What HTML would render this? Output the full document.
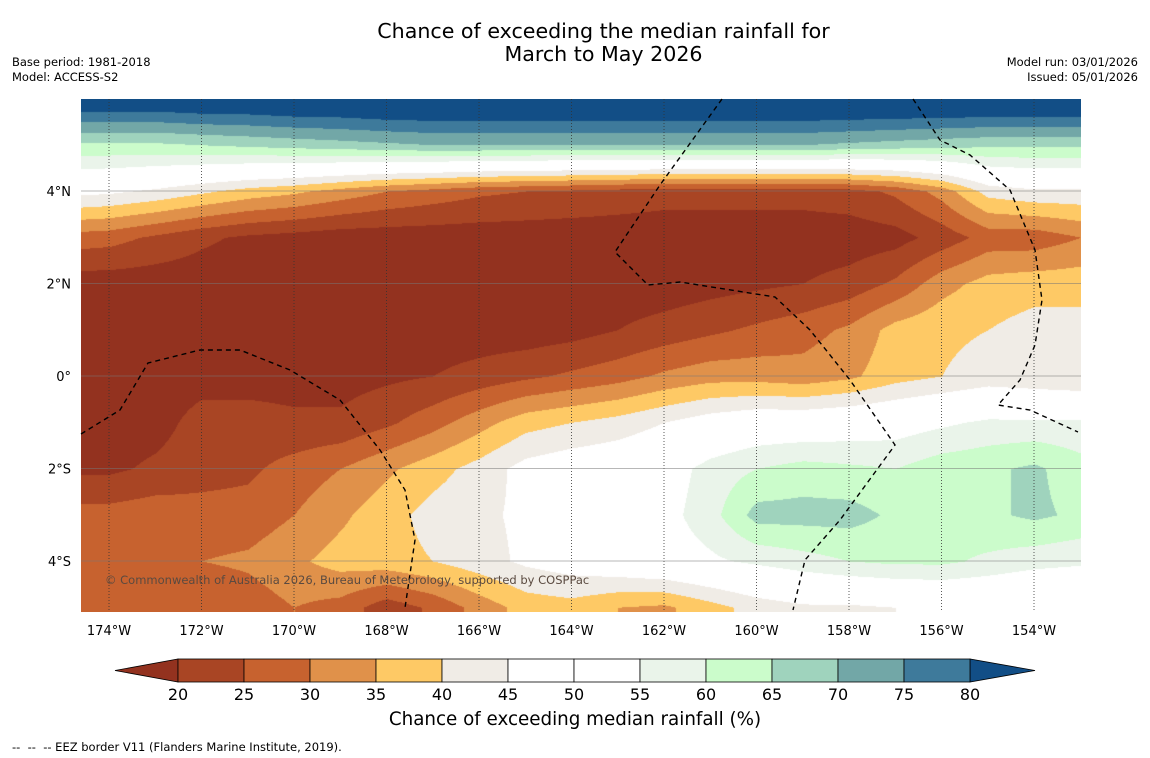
<!DOCTYPE html>
<html><head><meta charset="utf-8"><style>
body{margin:0;background:#fff;width:1150px;height:758px;overflow:hidden;font-family:"DejaVu Sans","Liberation Sans",sans-serif;position:relative}
.t{position:absolute;white-space:nowrap}
</style></head><body>
<div class="t" style="left:0;width:1207px;text-align:center;top:20px;font-size:20.6px;line-height:23px;color:#000">Chance of exceeding the median rainfall for<br>March to May 2026</div>
<div class="t" style="left:12px;top:55px;font-size:11.5px;line-height:15px">Base period: 1981-2018<br>Model: ACCESS-S2</div>
<div class="t" style="right:12px;top:55px;font-size:11.5px;line-height:15px;text-align:right">Model run: 03/01/2026<br>Issued: 05/01/2026</div>
<canvas id="map" width="1000" height="513" style="position:absolute;left:81px;top:99px"></canvas>
<svg id="ov" width="1150" height="758" style="position:absolute;left:0;top:0"></svg>
<div class="t" style="left:105px;top:573px;font-size:11.5px;color:#5a4a40">© Commonwealth of Australia 2026, Bureau of Meteorology, supported by COSPPac</div>
<div class="t" style="left:0;width:1150px;text-align:center;top:709px;font-size:18.3px">Chance of exceeding median rainfall (%)</div>
<div class="t" style="left:12px;top:740px;font-size:11.5px">--&nbsp; --&nbsp; -- EEZ border V11 (Flanders Marine Institute, 2019).</div>
<script>
const lons=[-175,-174,-173,-172,-171,-170,-169,-168,-167,-166,-165,-164,-163,-162,-161,-160,-159,-158,-157,-156,-155,-154,-153];
const lats=[6,5,4,3,2,1,0,-1,-2,-3,-4,-5,-6];
const r6=[86,86,86,87,87,88,88,89,89,89,89,89,89,89,89,89,89,89,89,89,89,89,89];
const r5=[64,64,64,65,66,67,68,69,70,70,70,70,70,70,70,70,70,69,68,67,66,66,66];
const r4=[47,46,44,41,38,36,33,30,28,26,25,24,23,22,22,22,22,23,26,32,42,44,44];
const r3=[28,27,24,21,19,18,17,17,17,17,17,17,17,17,17,17,17,17,18,22,27,27,30];
const r2=[17,17,17,17,17,17,17,17,17,17,17,17,17,17,18,19,20,22,26,33,37,38,38];
const r1=[17,17,17,17,17,17,17,17,17,17,17,18,20,22,24,26,28,31,37,39,40,42,42];
const r0=[17,17,17,18,18,18,18,19,20,22,24,26,28,31,33,33,32,34,38,40,42,41,40];
const rm1=[17,17,18,22,22,21,21,24,28,33,38,40,42,45,48,50,50,51,52,54,56,56,56];
const rm2=[19,19,21,23,24,27,30,34,38,42,47,49,50,52,57,60,62,61,60,63,64,66,62];
const rm3=[27,27,28,27,27,30,34,38,42,44,46,48,50,53,58,67,67,67,64,62,64,66,64];
const rm4=[28,28,29,30,31,34,37,38,40,43,46,48,50,52,54,56,58,60,61,61,59,57,56];
const rm5=[27,27,26,25,27,30,28,22,26,32,37,38,35,34,38,42,44,44,45,46,46,45,45];
const rm6=[27,27,26,25,27,30,28,22,26,32,37,38,35,34,38,42,44,44,45,46,46,45,45];
const grid=[r6,r5,r4,r3,r2,r1,r0,rm1,rm2,rm3,rm4,rm5,rm6];
const levels=[20,25,30,35,40,45,50,55,60,65,70,75,80];
const colors=["#93321f","#a94524","#c7622f","#e0914a","#fec965","#f0ece6","#ffffff","#ffffff","#eaf4ea","#cbfccb","#9fd3bd","#72a7a7","#3e7a9b","#124e86"];
const xTicks=[-174,-172,-170,-168,-166,-164,-162,-160,-158,-156,-154];
const yTicks=[4,2,0,-2,-4];
const cbTicks=[20,25,30,35,40,45,50,55,60,65,70,75,80];

const PX=46.25;
const xOf=lon=>109+(lon+174)*PX;
const yOf=lat=>376-lat*PX;
const binOf=v=>{let i=0;while(i<levels.length&&v>=levels[i])i++;return i;};

const cv=document.getElementById('map'),ctx=cv.getContext('2d');
const img=ctx.createImageData(1000,513);
const rgb=colors.map(c=>[parseInt(c.substr(1,2),16),parseInt(c.substr(3,2),16),parseInt(c.substr(5,2),16)]);
for(let py=0;py<513;py++){
  const lat=(376-(py+99))/PX;
  let fi=(lats[0]-lat);let i0=Math.min(Math.max(Math.floor(fi),0),lats.length-2);let ty=fi-i0;
  for(let px=0;px<1000;px++){
    const lon=(px+81-109)/PX-174;
    let fj=lon-lons[0];let j0=Math.min(Math.max(Math.floor(fj),0),lons.length-2);let tx=fj-j0;
    const a=grid[i0][j0],b=grid[i0][j0+1],c=grid[i0+1][j0],d=grid[i0+1][j0+1];
    const v=(a*(1-tx)+b*tx)*(1-ty)+(c*(1-tx)+d*tx)*ty;
    const col=rgb[binOf(v)];const k=(py*1000+px)*4;
    img.data[k]=col[0];img.data[k+1]=col[1];img.data[k+2]=col[2];img.data[k+3]=255;
  }
}
ctx.putImageData(img,0,0);

const NS='http://www.w3.org/2000/svg',ov=document.getElementById('ov');
function mk(tag,attrs,parent){const e=document.createElementNS(NS,tag);for(const k in attrs)e.setAttribute(k,attrs[k]);(parent||ov).appendChild(e);return e;}
const FF='DejaVu Sans, Liberation Sans, sans-serif';
xTicks.forEach(l=>{
  const x=xOf(l);
  const g=mk('line',{x1:x,x2:x,y1:99,y2:612,stroke:'#333','stroke-width':0.8,'stroke-dasharray':'1,2'});
  
  
  const t=mk('text',{x:x,y:635,'text-anchor':'middle','font-size':13,'font-family':FF});
  t.textContent=Math.abs(l)+'°W';
  
  
});
yTicks.forEach(l=>{
  const y=yOf(l);
  const g=mk('line',{x1:81,x2:1081,y1:y,y2:y,stroke:'#777','stroke-width':0.8,opacity:0.7});
  
  
  const t=mk('text',{x:71,y:y+5,'text-anchor':'end','font-size':13,'font-family':FF});
  t.textContent=l===0?'0°':Math.abs(l)+'°'+(l>0?'N':'S');
  
  
});
const eez=["M81,434 L120,410 L148,363 L200,350 L240,350 L290,370 L340,400 L380,450 L405,490 L415,540 L405,608",
"M722,99 L660,185 L615,252 L648,285 L680,282 L775,297 L810,330 L850,380 L895,445 L840,520 L805,560 L793,610",
"M913,99 L940,140 L970,155 L1010,190 L1035,250 L1042,300 L1035,345 L1020,380 L998,405 L1030,410 L1078,432"];
eez.forEach(d=>{
  const p=mk('path',{d:d,fill:'none',stroke:'#000','stroke-width':1.4,'stroke-dasharray':'5,4'});
  
  
});
const cbX=v=>178+(v-20)*13.2;
const cy=659,ch=23;
const lt=mk('polygon',{points:`115,${cy+ch/2} ${cbX(20)},${cy} ${cbX(20)},${cy+ch}`,fill:colors[0],stroke:'#000','stroke-width':0.8});


const rt=mk('polygon',{points:`1035,${cy+ch/2} ${cbX(80)},${cy} ${cbX(80)},${cy+ch}`,fill:colors[13],stroke:'#000','stroke-width':0.8});


for(let i=0;i<levels.length-1;i++){
  const r=mk('rect',{x:cbX(levels[i]),y:cy,width:cbX(levels[i+1])-cbX(levels[i]),height:ch,fill:colors[i+1],stroke:'#000','stroke-width':0.8});
  
  
}
cbTicks.forEach(v=>{
  const t=mk('text',{x:cbX(v),y:700,'text-anchor':'middle','font-size':16,'font-family':FF});
  t.textContent=v;
  
  
});
</script>
</body></html>
